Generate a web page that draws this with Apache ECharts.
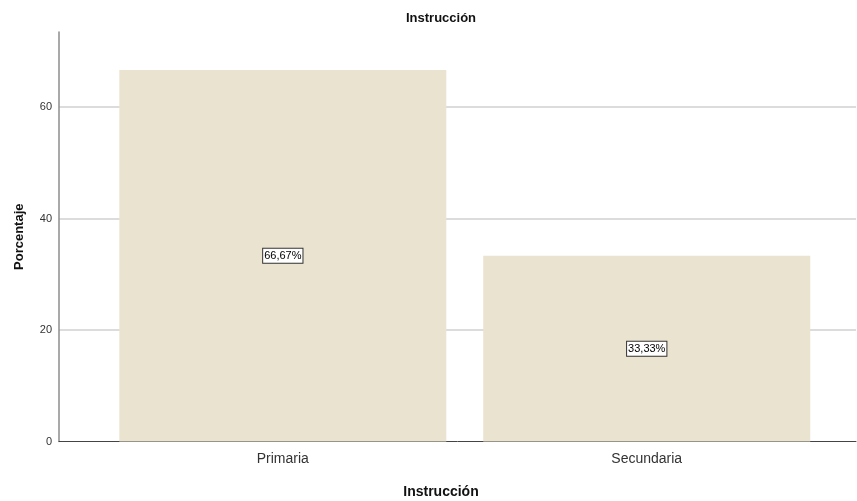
<!DOCTYPE html>
<html lang="es">
<head>
    <meta charset="UTF-8">
    <title>Instrucción</title>
    <script src="https://cdn.jsdelivr.net/npm/echarts@6/dist/echarts.min.js"></script>
</head>
<body style="margin:0;background:#fff;">
<div id="main" style="width:857px;height:501px;"></div>
<script>
    // datos
    const categorias = ['Primaria', 'Secundaria'];
    const posiciones = [1, 2];
    const porcentajes = [66.67, 33.33];
    const ticksY = [0, 20, 40, 60];

    const myChart = echarts.init(document.getElementById('main'));

    const option = {
        animation: false,
        textStyle: {fontFamily: 'Arial, "Liberation Sans", sans-serif'},
        title: [
            {
                text: 'Instrucción',
                left: 436, top: 7, textAlign: 'center',
                textStyle: {fontSize: 13, fontWeight: 'bold', color: '#111'}
            },
            {
                text: 'Instrucción',
                left: 436, top: 480, textAlign: 'center',
                textStyle: {fontSize: 14, fontWeight: 'bold', color: '#111'}
            }
        ],
        grid: {left: 59, right: 1, top: 32, bottom: 59.5, containLabel: false},
        xAxis: {
            type: 'value',
            min: 0.385,
            max: 2.575,
            splitLine: {show: false},
            axisTick: {show: false},
            axisLine: {show: true, onZero: false, lineStyle: {color: '#444', width: 1}},
            axisLabel: {
                customValues: posiciones,
                fontSize: 14,
                color: '#333',
                margin: 11,
                formatter: v => categorias[posiciones.indexOf(v)] || ''
            }
        },
        yAxis: {
            type: 'value',
            min: 0,
            max: 73.5,
            name: 'Porcentaje',
            nameLocation: 'middle',
            nameGap: 33,
            nameTextStyle: {fontSize: 13, fontWeight: 'bold', color: '#111'},
            axisLine: {show: true, lineStyle: {color: '#8c8c8c', width: 1.5}},
            axisTick: {show: false},
            axisLabel: {
                customValues: ticksY,
                fontSize: 11,
                color: '#333',
                margin: 7
            },
            splitLine: {
                show: true,
                showMinLine: false,
                showMaxLine: false,
                lineStyle: {color: '#dcdcdc', width: 2}
            },
            interval: 20
        },
        series: [{
            type: 'bar',
            barWidth: 327,
            data: posiciones.map((p, i) => [p, porcentajes[i]]),
            itemStyle: {color: '#E9E3CF'},
            label: {
                show: true,
                position: 'inside',
                fontSize: 11,
                color: '#000',
                backgroundColor: '#fff',
                borderColor: '#333',
                borderWidth: 1,
                padding: [2, 1, 1, 1],
                formatter: p => p.value[1].toFixed(2).replace('.', ',') + '%'
            }
        }]
    };

    myChart.setOption(option);
</script>
</body>
</html>
